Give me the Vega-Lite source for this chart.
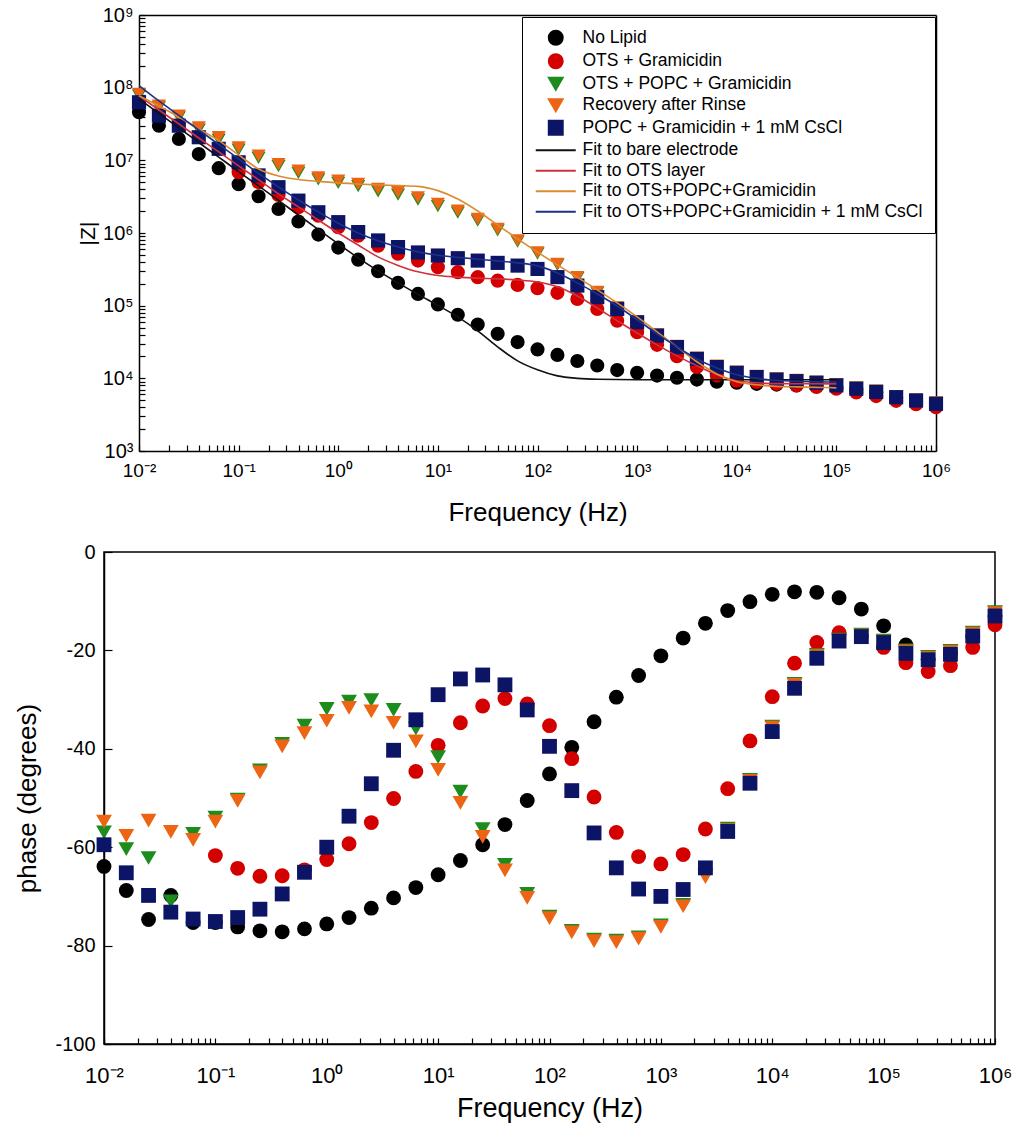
{
"$schema": "https://vega.github.io/schema/vega-lite/v6.json",
"background": "white",
"padding": {"left": 14, "top": 5, "right": 10, "bottom": 4},
"config": {
  "font": "Liberation Sans",
  "view": {"stroke": "black", "strokeWidth": 1.5},
  "axis": {"domainColor": "black", "domainWidth": 1.5, "tickColor": "black", "tickWidth": 1.2, "labelColor": "black", "titleColor": "black", "labelFont": "Liberation Sans", "titleFont": "Liberation Sans", "titleFontWeight": "normal", "grid": false, "labelFlush": false, "labelOverlap": false}
},
"datasets": {
"pts": [
{"s":"No Lipid","f":0.01,"z":4.6e7,"p":-63.9},
{"s":"No Lipid","f":0.01585,"z":3.0e7,"p":-68.8},
{"s":"No Lipid","f":0.02512,"z":1.97e7,"p":-74.7},
{"s":"No Lipid","f":0.03981,"z":1.22e7,"p":-69.8},
{"s":"No Lipid","f":0.0631,"z":7.8e6,"p":-75.3},
{"s":"No Lipid","f":0.1,"z":4.7e6,"p":-75.3},
{"s":"No Lipid","f":0.1585,"z":3.2e6,"p":-76.2},
{"s":"No Lipid","f":0.2512,"z":2.14e6,"p":-77.0},
{"s":"No Lipid","f":0.3981,"z":1.44e6,"p":-77.2},
{"s":"No Lipid","f":0.631,"z":9.5e5,"p":-76.6},
{"s":"No Lipid","f":1,"z":6.3e5,"p":-75.6},
{"s":"No Lipid","f":1.585,"z":4.3e5,"p":-74.3},
{"s":"No Lipid","f":2.512,"z":2.98e5,"p":-72.4},
{"s":"No Lipid","f":3.981,"z":2.06e5,"p":-70.3},
{"s":"No Lipid","f":6.31,"z":1.45e5,"p":-68.2},
{"s":"No Lipid","f":10,"z":1.04e5,"p":-65.6},
{"s":"No Lipid","f":15.85,"z":7.5e4,"p":-62.7},
{"s":"No Lipid","f":25.12,"z":5.5e4,"p":-59.5},
{"s":"No Lipid","f":39.81,"z":4.1e4,"p":-55.4},
{"s":"No Lipid","f":63.1,"z":3.15e4,"p":-50.5},
{"s":"No Lipid","f":100,"z":2.5e4,"p":-45.1},
{"s":"No Lipid","f":158.5,"z":2.1e4,"p":-39.7},
{"s":"No Lipid","f":251.2,"z":1.73e4,"p":-34.5},
{"s":"No Lipid","f":398.1,"z":1.5e4,"p":-29.5},
{"s":"No Lipid","f":631,"z":1.3e4,"p":-25.1},
{"s":"No Lipid","f":1000,"z":1.19e4,"p":-21.1},
{"s":"No Lipid","f":1585,"z":1.09e4,"p":-17.5},
{"s":"No Lipid","f":2512,"z":1.02e4,"p":-14.5},
{"s":"No Lipid","f":3981,"z":9.6e3,"p":-11.9},
{"s":"No Lipid","f":6310,"z":9.0e3,"p":-10.1},
{"s":"No Lipid","f":10000,"z":8.7e3,"p":-8.6},
{"s":"No Lipid","f":15850,"z":8.4e3,"p":-8.1},
{"s":"No Lipid","f":25120,"z":8.2e3,"p":-8.2},
{"s":"No Lipid","f":39810,"z":8.0e3,"p":-9.3},
{"s":"No Lipid","f":63100,"z":7.8e3,"p":-11.6},
{"s":"No Lipid","f":100000,"z":7.6e3,"p":-15.0},
{"s":"No Lipid","f":158500,"z":7.0e3,"p":-18.9},
{"s":"No Lipid","f":251200,"z":6.4e3,"p":-21.8},
{"s":"No Lipid","f":398100,"z":5.4e3,"p":-20.6},
{"s":"No Lipid","f":631000,"z":4.8e3,"p":-17.2},
{"s":"No Lipid","f":1000000,"z":4.3e3,"p":-13.0},
{"s":"OTS + Gramicidin","f":0.1,"z":6.86e6,"p":-61.7},
{"s":"OTS + Gramicidin","f":0.1585,"z":5.0e6,"p":-64.3},
{"s":"OTS + Gramicidin","f":0.2512,"z":3.34e6,"p":-65.9},
{"s":"OTS + Gramicidin","f":0.3981,"z":2.26e6,"p":-65.8},
{"s":"OTS + Gramicidin","f":0.631,"z":1.73e6,"p":-64.6},
{"s":"OTS + Gramicidin","f":1,"z":1.2e6,"p":-62.5},
{"s":"OTS + Gramicidin","f":1.585,"z":9.2e5,"p":-59.3},
{"s":"OTS + Gramicidin","f":2.512,"z":6.7e5,"p":-55.0},
{"s":"OTS + Gramicidin","f":3.981,"z":5.2e5,"p":-50.1},
{"s":"OTS + Gramicidin","f":6.31,"z":4.17e5,"p":-44.6},
{"s":"OTS + Gramicidin","f":10,"z":3.39e5,"p":-39.3},
{"s":"OTS + Gramicidin","f":15.85,"z":2.89e5,"p":-34.7},
{"s":"OTS + Gramicidin","f":25.12,"z":2.47e5,"p":-31.3},
{"s":"OTS + Gramicidin","f":39.81,"z":2.21e5,"p":-29.8},
{"s":"OTS + Gramicidin","f":63.1,"z":1.93e5,"p":-30.9},
{"s":"OTS + Gramicidin","f":100,"z":1.74e5,"p":-35.3},
{"s":"OTS + Gramicidin","f":158.5,"z":1.5e5,"p":-42.0},
{"s":"OTS + Gramicidin","f":251.2,"z":1.24e5,"p":-49.8},
{"s":"OTS + Gramicidin","f":398.1,"z":9.0e4,"p":-57.0},
{"s":"OTS + Gramicidin","f":631,"z":6.2e4,"p":-61.9},
{"s":"OTS + Gramicidin","f":1000,"z":4.3e4,"p":-63.4},
{"s":"OTS + Gramicidin","f":1585,"z":2.89e4,"p":-61.5},
{"s":"OTS + Gramicidin","f":2512,"z":2.02e4,"p":-56.3},
{"s":"OTS + Gramicidin","f":3981,"z":1.43e4,"p":-48.1},
{"s":"OTS + Gramicidin","f":6310,"z":1.09e4,"p":-38.4},
{"s":"OTS + Gramicidin","f":10000,"z":9.3e3,"p":-29.4},
{"s":"OTS + Gramicidin","f":15850,"z":8.9e3,"p":-22.6},
{"s":"OTS + Gramicidin","f":25120,"z":8.4e3,"p":-18.4},
{"s":"OTS + Gramicidin","f":39810,"z":8.0e3,"p":-16.4},
{"s":"OTS + Gramicidin","f":63100,"z":7.6e3,"p":-17.1},
{"s":"OTS + Gramicidin","f":100000,"z":7.2e3,"p":-19.4},
{"s":"OTS + Gramicidin","f":158500,"z":6.4e3,"p":-22.5},
{"s":"OTS + Gramicidin","f":251200,"z":5.7e3,"p":-24.3},
{"s":"OTS + Gramicidin","f":398100,"z":4.9e3,"p":-23.1},
{"s":"OTS + Gramicidin","f":631000,"z":4.4e3,"p":-19.4},
{"s":"OTS + Gramicidin","f":1000000,"z":4.0e3,"p":-14.8},
{"s":"OTS + POPC + Gramicidin","f":0.01,"z":7.8e7,"p":-57.0},
{"s":"OTS + POPC + Gramicidin","f":0.01585,"z":5.4e7,"p":-60.4},
{"s":"OTS + POPC + Gramicidin","f":0.02512,"z":3.9e7,"p":-62.2},
{"s":"OTS + POPC + Gramicidin","f":0.03981,"z":2.65e7,"p":-71.0},
{"s":"OTS + POPC + Gramicidin","f":0.0631,"z":1.93e7,"p":-57.3},
{"s":"OTS + POPC + Gramicidin","f":0.1,"z":1.4e7,"p":-54.0},
{"s":"OTS + POPC + Gramicidin","f":0.1585,"z":1.08e7,"p":-50.3},
{"s":"OTS + POPC + Gramicidin","f":0.2512,"z":8.3e6,"p":-44.4},
{"s":"OTS + POPC + Gramicidin","f":0.3981,"z":6.7e6,"p":-39.0},
{"s":"OTS + POPC + Gramicidin","f":0.631,"z":5.45e6,"p":-35.3},
{"s":"OTS + POPC + Gramicidin","f":1,"z":4.9e6,"p":-31.9},
{"s":"OTS + POPC + Gramicidin","f":1.585,"z":4.4e6,"p":-30.4},
{"s":"OTS + POPC + Gramicidin","f":2.512,"z":3.75e6,"p":-30.1},
{"s":"OTS + POPC + Gramicidin","f":3.981,"z":3.38e6,"p":-32.1},
{"s":"OTS + POPC + Gramicidin","f":6.31,"z":2.88e6,"p":-35.9},
{"s":"OTS + POPC + Gramicidin","f":10,"z":2.35e6,"p":-41.7},
{"s":"OTS + POPC + Gramicidin","f":15.85,"z":1.9e6,"p":-48.7},
{"s":"OTS + POPC + Gramicidin","f":25.12,"z":1.48e6,"p":-56.3},
{"s":"OTS + POPC + Gramicidin","f":39.81,"z":1.09e6,"p":-63.6},
{"s":"OTS + POPC + Gramicidin","f":63.1,"z":7.6e5,"p":-69.5},
{"s":"OTS + POPC + Gramicidin","f":100,"z":5.2e5,"p":-74.1},
{"s":"OTS + POPC + Gramicidin","f":158.5,"z":3.65e5,"p":-77.0},
{"s":"OTS + POPC + Gramicidin","f":251.2,"z":2.4e5,"p":-78.8},
{"s":"OTS + POPC + Gramicidin","f":398.1,"z":1.5e5,"p":-79.0},
{"s":"OTS + POPC + Gramicidin","f":631,"z":9.3e4,"p":-78.3},
{"s":"OTS + POPC + Gramicidin","f":1000,"z":6.0e4,"p":-75.9},
{"s":"OTS + POPC + Gramicidin","f":1585,"z":3.95e4,"p":-71.7},
{"s":"OTS + POPC + Gramicidin","f":2512,"z":2.75e4,"p":-65.6},
{"s":"OTS + POPC + Gramicidin","f":3981,"z":1.9e4,"p":-56.2},
{"s":"OTS + POPC + Gramicidin","f":6310,"z":1.47e4,"p":-46.3},
{"s":"OTS + POPC + Gramicidin","f":10000,"z":1.22e4,"p":-35.5},
{"s":"OTS + POPC + Gramicidin","f":15850,"z":1.06e4,"p":-26.8},
{"s":"OTS + POPC + Gramicidin","f":25120,"z":9.8e3,"p":-20.9},
{"s":"OTS + POPC + Gramicidin","f":39810,"z":9.3e3,"p":-17.8},
{"s":"OTS + POPC + Gramicidin","f":63100,"z":8.8e3,"p":-16.8},
{"s":"OTS + POPC + Gramicidin","f":100000,"z":8.2e3,"p":-18.0},
{"s":"OTS + POPC + Gramicidin","f":158500,"z":7.4e3,"p":-20.0},
{"s":"OTS + POPC + Gramicidin","f":251200,"z":6.7e3,"p":-21.3},
{"s":"OTS + POPC + Gramicidin","f":398100,"z":5.65e3,"p":-20.1},
{"s":"OTS + POPC + Gramicidin","f":631000,"z":5.1e3,"p":-16.4},
{"s":"OTS + POPC + Gramicidin","f":1000000,"z":4.6e3,"p":-12.2},
{"s":"Recovery after Rinse","f":0.01,"z":8.2e7,"p":-54.8},
{"s":"Recovery after Rinse","f":0.01585,"z":5.65e7,"p":-57.7},
{"s":"Recovery after Rinse","f":0.02512,"z":4.12e7,"p":-54.6},
{"s":"Recovery after Rinse","f":0.03981,"z":2.85e7,"p":-56.9},
{"s":"Recovery after Rinse","f":0.0631,"z":2.08e7,"p":-58.5},
{"s":"Recovery after Rinse","f":0.1,"z":1.51e7,"p":-54.8},
{"s":"Recovery after Rinse","f":0.1585,"z":1.16e7,"p":-50.6},
{"s":"Recovery after Rinse","f":0.2512,"z":8.9e6,"p":-44.8},
{"s":"Recovery after Rinse","f":0.3981,"z":7.2e6,"p":-39.5},
{"s":"Recovery after Rinse","f":0.631,"z":5.85e6,"p":-36.8},
{"s":"Recovery after Rinse","f":1,"z":5.26e6,"p":-34.3},
{"s":"Recovery after Rinse","f":1.585,"z":4.73e6,"p":-31.7},
{"s":"Recovery after Rinse","f":2.512,"z":4.04e6,"p":-32.4},
{"s":"Recovery after Rinse","f":3.981,"z":3.64e6,"p":-34.7},
{"s":"Recovery after Rinse","f":6.31,"z":3.1e6,"p":-38.5},
{"s":"Recovery after Rinse","f":10,"z":2.51e6,"p":-44.3},
{"s":"Recovery after Rinse","f":15.85,"z":2.03e6,"p":-51.0},
{"s":"Recovery after Rinse","f":25.12,"z":1.56e6,"p":-57.9},
{"s":"Recovery after Rinse","f":39.81,"z":1.14e6,"p":-64.7},
{"s":"Recovery after Rinse","f":63.1,"z":7.9e5,"p":-70.3},
{"s":"Recovery after Rinse","f":100,"z":5.4e5,"p":-74.4},
{"s":"Recovery after Rinse","f":158.5,"z":3.76e5,"p":-77.3},
{"s":"Recovery after Rinse","f":251.2,"z":2.47e5,"p":-79.1},
{"s":"Recovery after Rinse","f":398.1,"z":1.55e5,"p":-79.3},
{"s":"Recovery after Rinse","f":631,"z":9.5e4,"p":-78.6},
{"s":"Recovery after Rinse","f":1000,"z":6.1e4,"p":-76.2},
{"s":"Recovery after Rinse","f":1585,"z":4.0e4,"p":-72.0},
{"s":"Recovery after Rinse","f":2512,"z":2.8e4,"p":-66.1},
{"s":"Recovery after Rinse","f":3981,"z":1.92e4,"p":-56.5},
{"s":"Recovery after Rinse","f":6310,"z":1.49e4,"p":-46.5},
{"s":"Recovery after Rinse","f":10000,"z":1.24e4,"p":-35.7},
{"s":"Recovery after Rinse","f":15850,"z":1.08e4,"p":-27.0},
{"s":"Recovery after Rinse","f":25120,"z":1.0e4,"p":-21.1},
{"s":"Recovery after Rinse","f":39810,"z":9.5e3,"p":-18.0},
{"s":"Recovery after Rinse","f":63100,"z":9.0e3,"p":-17.0},
{"s":"Recovery after Rinse","f":100000,"z":8.3e3,"p":-18.2},
{"s":"Recovery after Rinse","f":158500,"z":7.5e3,"p":-20.2},
{"s":"Recovery after Rinse","f":251200,"z":6.75e3,"p":-21.5},
{"s":"Recovery after Rinse","f":398100,"z":5.7e3,"p":-20.3},
{"s":"Recovery after Rinse","f":631000,"z":5.15e3,"p":-16.6},
{"s":"Recovery after Rinse","f":1000000,"z":4.65e3,"p":-12.4},
{"s":"POPC + Gramicidin + 1 mM CsCl","f":0.01,"z":6.3e7,"p":-59.5},
{"s":"POPC + Gramicidin + 1 mM CsCl","f":0.01585,"z":4.12e7,"p":-65.2},
{"s":"POPC + Gramicidin + 1 mM CsCl","f":0.02512,"z":3.0e7,"p":-69.8},
{"s":"POPC + Gramicidin + 1 mM CsCl","f":0.03981,"z":2.08e7,"p":-73.2},
{"s":"POPC + Gramicidin + 1 mM CsCl","f":0.0631,"z":1.44e7,"p":-74.6},
{"s":"POPC + Gramicidin + 1 mM CsCl","f":0.1,"z":9.4e6,"p":-75.1},
{"s":"POPC + Gramicidin + 1 mM CsCl","f":0.1585,"z":6.2e6,"p":-74.3},
{"s":"POPC + Gramicidin + 1 mM CsCl","f":0.2512,"z":4.27e6,"p":-72.6},
{"s":"POPC + Gramicidin + 1 mM CsCl","f":0.3981,"z":2.79e6,"p":-69.5},
{"s":"POPC + Gramicidin + 1 mM CsCl","f":0.631,"z":1.93e6,"p":-65.1},
{"s":"POPC + Gramicidin + 1 mM CsCl","f":1,"z":1.41e6,"p":-60.0},
{"s":"POPC + Gramicidin + 1 mM CsCl","f":1.585,"z":1.03e6,"p":-53.7},
{"s":"POPC + Gramicidin + 1 mM CsCl","f":2.512,"z":7.9e5,"p":-47.1},
{"s":"POPC + Gramicidin + 1 mM CsCl","f":3.981,"z":6.4e5,"p":-40.3},
{"s":"POPC + Gramicidin + 1 mM CsCl","f":6.31,"z":5.4e5,"p":-34.1},
{"s":"POPC + Gramicidin + 1 mM CsCl","f":10,"z":4.9e5,"p":-29.0},
{"s":"POPC + Gramicidin + 1 mM CsCl","f":15.85,"z":4.5e5,"p":-25.8},
{"s":"POPC + Gramicidin + 1 mM CsCl","f":25.12,"z":4.17e5,"p":-25.0},
{"s":"POPC + Gramicidin + 1 mM CsCl","f":39.81,"z":3.88e5,"p":-27.0},
{"s":"POPC + Gramicidin + 1 mM CsCl","f":63.1,"z":3.56e5,"p":-32.1},
{"s":"POPC + Gramicidin + 1 mM CsCl","f":100,"z":3.2e5,"p":-39.5},
{"s":"POPC + Gramicidin + 1 mM CsCl","f":158.5,"z":2.47e5,"p":-48.5},
{"s":"POPC + Gramicidin + 1 mM CsCl","f":251.2,"z":1.89e5,"p":-57.1},
{"s":"POPC + Gramicidin + 1 mM CsCl","f":398.1,"z":1.31e5,"p":-64.2},
{"s":"POPC + Gramicidin + 1 mM CsCl","f":631,"z":9.0e4,"p":-68.5},
{"s":"POPC + Gramicidin + 1 mM CsCl","f":1000,"z":5.9e4,"p":-70.0},
{"s":"POPC + Gramicidin + 1 mM CsCl","f":1585,"z":3.88e4,"p":-68.6},
{"s":"POPC + Gramicidin + 1 mM CsCl","f":2512,"z":2.69e4,"p":-64.2},
{"s":"POPC + Gramicidin + 1 mM CsCl","f":3981,"z":1.85e4,"p":-56.8},
{"s":"POPC + Gramicidin + 1 mM CsCl","f":6310,"z":1.43e4,"p":-47.0},
{"s":"POPC + Gramicidin + 1 mM CsCl","f":10000,"z":1.19e4,"p":-36.5},
{"s":"POPC + Gramicidin + 1 mM CsCl","f":15850,"z":1.04e4,"p":-27.7},
{"s":"POPC + Gramicidin + 1 mM CsCl","f":25120,"z":9.6e3,"p":-21.6},
{"s":"POPC + Gramicidin + 1 mM CsCl","f":39810,"z":9.15e3,"p":-18.1},
{"s":"POPC + Gramicidin + 1 mM CsCl","f":63100,"z":8.7e3,"p":-17.2},
{"s":"POPC + Gramicidin + 1 mM CsCl","f":100000,"z":8.0e3,"p":-18.4},
{"s":"POPC + Gramicidin + 1 mM CsCl","f":158500,"z":7.2e3,"p":-20.6},
{"s":"POPC + Gramicidin + 1 mM CsCl","f":251200,"z":6.5e3,"p":-21.9},
{"s":"POPC + Gramicidin + 1 mM CsCl","f":398100,"z":5.5e3,"p":-20.8},
{"s":"POPC + Gramicidin + 1 mM CsCl","f":631000,"z":4.95e3,"p":-17.1},
{"s":"POPC + Gramicidin + 1 mM CsCl","f":1000000,"z":4.46e3,"p":-13.0}
],
"fits": [
{"s":"Fit to bare electrode","f":0.01,"z":7.0e7},
{"s":"Fit to bare electrode","f":0.01585,"z":4.42e7},
{"s":"Fit to bare electrode","f":0.02512,"z":2.79e7},
{"s":"Fit to bare electrode","f":0.03981,"z":1.76e7},
{"s":"Fit to bare electrode","f":0.0631,"z":1.11e7},
{"s":"Fit to bare electrode","f":0.1,"z":7.0e6},
{"s":"Fit to bare electrode","f":0.1585,"z":4.44e6},
{"s":"Fit to bare electrode","f":0.2512,"z":2.81e6},
{"s":"Fit to bare electrode","f":0.3981,"z":1.77e6},
{"s":"Fit to bare electrode","f":0.631,"z":1.12e6},
{"s":"Fit to bare electrode","f":1,"z":7.1e5},
{"s":"Fit to bare electrode","f":1.585,"z":4.55e5},
{"s":"Fit to bare electrode","f":2.512,"z":3.01e5},
{"s":"Fit to bare electrode","f":3.981,"z":2.06e5},
{"s":"Fit to bare electrode","f":6.31,"z":1.43e5},
{"s":"Fit to bare electrode","f":10,"z":1.01e5},
{"s":"Fit to bare electrode","f":15.85,"z":7.0e4},
{"s":"Fit to bare electrode","f":25.12,"z":4.5e4},
{"s":"Fit to bare electrode","f":39.81,"z":2.71e4},
{"s":"Fit to bare electrode","f":63.1,"z":1.74e4},
{"s":"Fit to bare electrode","f":100,"z":1.31e4},
{"s":"Fit to bare electrode","f":158.5,"z":1.08e4},
{"s":"Fit to bare electrode","f":251.2,"z":1.0e4},
{"s":"Fit to bare electrode","f":398.1,"z":9.7e3},
{"s":"Fit to bare electrode","f":1000,"z":9.56e3},
{"s":"Fit to bare electrode","f":10000,"z":9.55e3},
{"s":"Fit to bare electrode","f":100000,"z":9.55e3},
{"s":"Fit to OTS layer","f":0.01,"z":7.7e7},
{"s":"Fit to OTS layer","f":0.01585,"z":4.93e7},
{"s":"Fit to OTS layer","f":0.02512,"z":3.17e7},
{"s":"Fit to OTS layer","f":0.03981,"z":2.03e7},
{"s":"Fit to OTS layer","f":0.0631,"z":1.31e7},
{"s":"Fit to OTS layer","f":0.1,"z":8.4e6},
{"s":"Fit to OTS layer","f":0.1585,"z":5.4e6},
{"s":"Fit to OTS layer","f":0.2512,"z":3.45e6},
{"s":"Fit to OTS layer","f":0.3981,"z":2.29e6},
{"s":"Fit to OTS layer","f":0.631,"z":1.51e6},
{"s":"Fit to OTS layer","f":1,"z":1.0e6},
{"s":"Fit to OTS layer","f":1.585,"z":6.85e5},
{"s":"Fit to OTS layer","f":2.512,"z":4.69e5},
{"s":"Fit to OTS layer","f":3.981,"z":3.58e5},
{"s":"Fit to OTS layer","f":6.31,"z":2.92e5},
{"s":"Fit to OTS layer","f":10,"z":2.6e5},
{"s":"Fit to OTS layer","f":15.85,"z":2.47e5},
{"s":"Fit to OTS layer","f":25.12,"z":2.39e5},
{"s":"Fit to OTS layer","f":39.81,"z":2.34e5},
{"s":"Fit to OTS layer","f":63.1,"z":2.26e5},
{"s":"Fit to OTS layer","f":100,"z":2.12e5},
{"s":"Fit to OTS layer","f":158.5,"z":1.82e5},
{"s":"Fit to OTS layer","f":251.2,"z":1.36e5},
{"s":"Fit to OTS layer","f":398.1,"z":9.3e4},
{"s":"Fit to OTS layer","f":631,"z":6.2e4},
{"s":"Fit to OTS layer","f":1000,"z":4.2e4},
{"s":"Fit to OTS layer","f":1585,"z":2.89e4},
{"s":"Fit to OTS layer","f":2512,"z":2.04e4},
{"s":"Fit to OTS layer","f":3981,"z":1.49e4},
{"s":"Fit to OTS layer","f":6310,"z":1.12e4},
{"s":"Fit to OTS layer","f":10000,"z":9.25e3},
{"s":"Fit to OTS layer","f":15850,"z":8.7e3},
{"s":"Fit to OTS layer","f":25120,"z":8.45e3},
{"s":"Fit to OTS layer","f":100000,"z":8.4e3},
{"s":"Fit to OTS+POPC+Gramicidin","f":0.01,"z":7.76e7},
{"s":"Fit to OTS+POPC+Gramicidin","f":0.01585,"z":5.6e7},
{"s":"Fit to OTS+POPC+Gramicidin","f":0.02512,"z":3.95e7},
{"s":"Fit to OTS+POPC+Gramicidin","f":0.03981,"z":2.7e7},
{"s":"Fit to OTS+POPC+Gramicidin","f":0.0631,"z":1.87e7},
{"s":"Fit to OTS+POPC+Gramicidin","f":0.1,"z":1.19e7},
{"s":"Fit to OTS+POPC+Gramicidin","f":0.1585,"z":7.6e6},
{"s":"Fit to OTS+POPC+Gramicidin","f":0.2512,"z":6.1e6},
{"s":"Fit to OTS+POPC+Gramicidin","f":0.3981,"z":5.46e6},
{"s":"Fit to OTS+POPC+Gramicidin","f":0.631,"z":5.13e6},
{"s":"Fit to OTS+POPC+Gramicidin","f":1,"z":4.89e6},
{"s":"Fit to OTS+POPC+Gramicidin","f":1.585,"z":4.73e6},
{"s":"Fit to OTS+POPC+Gramicidin","f":2.512,"z":4.59e6},
{"s":"Fit to OTS+POPC+Gramicidin","f":3.981,"z":4.49e6},
{"s":"Fit to OTS+POPC+Gramicidin","f":6.31,"z":4.38e6},
{"s":"Fit to OTS+POPC+Gramicidin","f":10,"z":3.83e6},
{"s":"Fit to OTS+POPC+Gramicidin","f":15.85,"z":2.94e6},
{"s":"Fit to OTS+POPC+Gramicidin","f":25.12,"z":2.01e6},
{"s":"Fit to OTS+POPC+Gramicidin","f":39.81,"z":1.29e6},
{"s":"Fit to OTS+POPC+Gramicidin","f":63.1,"z":8.3e5},
{"s":"Fit to OTS+POPC+Gramicidin","f":100,"z":5.45e5},
{"s":"Fit to OTS+POPC+Gramicidin","f":158.5,"z":3.64e5},
{"s":"Fit to OTS+POPC+Gramicidin","f":251.2,"z":2.45e5},
{"s":"Fit to OTS+POPC+Gramicidin","f":398.1,"z":1.65e5},
{"s":"Fit to OTS+POPC+Gramicidin","f":631,"z":1.09e5},
{"s":"Fit to OTS+POPC+Gramicidin","f":1000,"z":7.0e4},
{"s":"Fit to OTS+POPC+Gramicidin","f":1585,"z":4.37e4},
{"s":"Fit to OTS+POPC+Gramicidin","f":2512,"z":2.71e4},
{"s":"Fit to OTS+POPC+Gramicidin","f":3981,"z":1.69e4},
{"s":"Fit to OTS+POPC+Gramicidin","f":6310,"z":1.15e4},
{"s":"Fit to OTS+POPC+Gramicidin","f":10000,"z":8.95e3},
{"s":"Fit to OTS+POPC+Gramicidin","f":15850,"z":8.15e3},
{"s":"Fit to OTS+POPC+Gramicidin","f":25120,"z":7.76e3},
{"s":"Fit to OTS+POPC+Gramicidin","f":39810,"z":7.64e3},
{"s":"Fit to OTS+POPC+Gramicidin","f":63100,"z":7.52e3},
{"s":"Fit to OTS+POPC+Gramicidin","f":100000,"z":7.4e3},
{"s":"Fit to OTS+POPC+Gramicidin + 1 mM CsCl","f":0.01,"z":1.07e8},
{"s":"Fit to OTS+POPC+Gramicidin + 1 mM CsCl","f":0.01585,"z":6.56e7},
{"s":"Fit to OTS+POPC+Gramicidin + 1 mM CsCl","f":0.02512,"z":4.15e7},
{"s":"Fit to OTS+POPC+Gramicidin + 1 mM CsCl","f":0.03981,"z":2.62e7},
{"s":"Fit to OTS+POPC+Gramicidin + 1 mM CsCl","f":0.0631,"z":1.66e7},
{"s":"Fit to OTS+POPC+Gramicidin + 1 mM CsCl","f":0.1,"z":1.05e7},
{"s":"Fit to OTS+POPC+Gramicidin + 1 mM CsCl","f":0.1585,"z":6.6e6},
{"s":"Fit to OTS+POPC+Gramicidin + 1 mM CsCl","f":0.2512,"z":4.31e6},
{"s":"Fit to OTS+POPC+Gramicidin + 1 mM CsCl","f":0.3981,"z":2.85e6},
{"s":"Fit to OTS+POPC+Gramicidin + 1 mM CsCl","f":0.631,"z":1.95e6},
{"s":"Fit to OTS+POPC+Gramicidin + 1 mM CsCl","f":1,"z":1.36e6},
{"s":"Fit to OTS+POPC+Gramicidin + 1 mM CsCl","f":1.585,"z":1.0e6},
{"s":"Fit to OTS+POPC+Gramicidin + 1 mM CsCl","f":2.512,"z":7.8e5},
{"s":"Fit to OTS+POPC+Gramicidin + 1 mM CsCl","f":3.981,"z":6.4e5},
{"s":"Fit to OTS+POPC+Gramicidin + 1 mM CsCl","f":6.31,"z":5.5e5},
{"s":"Fit to OTS+POPC+Gramicidin + 1 mM CsCl","f":10,"z":4.95e5},
{"s":"Fit to OTS+POPC+Gramicidin + 1 mM CsCl","f":15.85,"z":4.62e5},
{"s":"Fit to OTS+POPC+Gramicidin + 1 mM CsCl","f":25.12,"z":4.36e5},
{"s":"Fit to OTS+POPC+Gramicidin + 1 mM CsCl","f":39.81,"z":4.13e5},
{"s":"Fit to OTS+POPC+Gramicidin + 1 mM CsCl","f":63.1,"z":3.88e5},
{"s":"Fit to OTS+POPC+Gramicidin + 1 mM CsCl","f":100,"z":3.53e5},
{"s":"Fit to OTS+POPC+Gramicidin + 1 mM CsCl","f":158.5,"z":2.82e5},
{"s":"Fit to OTS+POPC+Gramicidin + 1 mM CsCl","f":251.2,"z":2.06e5},
{"s":"Fit to OTS+POPC+Gramicidin + 1 mM CsCl","f":398.1,"z":1.45e5},
{"s":"Fit to OTS+POPC+Gramicidin + 1 mM CsCl","f":631,"z":9.9e4},
{"s":"Fit to OTS+POPC+Gramicidin + 1 mM CsCl","f":1000,"z":6.4e4},
{"s":"Fit to OTS+POPC+Gramicidin + 1 mM CsCl","f":1585,"z":4.1e4},
{"s":"Fit to OTS+POPC+Gramicidin + 1 mM CsCl","f":2512,"z":2.71e4},
{"s":"Fit to OTS+POPC+Gramicidin + 1 mM CsCl","f":3981,"z":1.85e4},
{"s":"Fit to OTS+POPC+Gramicidin + 1 mM CsCl","f":6310,"z":1.39e4},
{"s":"Fit to OTS+POPC+Gramicidin + 1 mM CsCl","f":10000,"z":1.12e4},
{"s":"Fit to OTS+POPC+Gramicidin + 1 mM CsCl","f":15850,"z":1.0e4},
{"s":"Fit to OTS+POPC+Gramicidin + 1 mM CsCl","f":25120,"z":9.4e3},
{"s":"Fit to OTS+POPC+Gramicidin + 1 mM CsCl","f":39810,"z":9.1e3},
{"s":"Fit to OTS+POPC+Gramicidin + 1 mM CsCl","f":63100,"z":8.95e3},
{"s":"Fit to OTS+POPC+Gramicidin + 1 mM CsCl","f":100000,"z":8.87e3}
]
},
"spacing": 16,
"resolve": {"scale": {"color": "shared", "shape": "shared", "size": "shared"}},
"vconcat": [
{
  "width": 832, "height": 436,
  "view": {"stroke": null},
  "layer": [
    {
      "data": {"name": "pts"},
      "mark": {"type": "point", "filled": true, "opacity": 1},
      "encoding": {
        "x": {"field": "f", "type": "quantitative",
              "scale": {"type": "log", "domain": [0.01, 1000000], "nice": false, "rangeMin": 35},
              "axis": {"orient": "bottom", "tickCount": 100,
                       "labelExpr": "abs(log(datum.value)/LN10 - round(log(datum.value)/LN10)) < 0.001 ? '10' + ['⁻²','⁻¹','⁰','¹','²','³','⁴','⁵','⁶','⁷','⁸','⁹'][round(log(datum.value)/LN10)+2] : ''",
                       "tickSize": -6,
                       "labelPadding": 16, "labelFontSize": 19,
                       "title": "Frequency (Hz)", "titleFontSize": 26, "titlePadding": 19}},
        "y": {"field": "z", "type": "quantitative",
              "scale": {"type": "log", "domain": [1000, 1000000000], "nice": false},
              "axis": {"orient": "left", "offset": -35, "tickCount": 100,
                       "labelExpr": "abs(log(datum.value)/LN10 - round(log(datum.value)/LN10)) < 0.001 ? '10' + ['⁻²','⁻¹','⁰','¹','²','³','⁴','⁵','⁶','⁷','⁸','⁹'][round(log(datum.value)/LN10)+2] : ''",
                       "tickSize": -6,
                       "labelPadding": 12, "labelFontSize": 20,
                       "title": "|Z|", "titleFontSize": 21, "titlePadding": 4}},
        "color": {"field": "s", "type": "nominal",
                  "scale": {"domain": ["No Lipid", "OTS + Gramicidin", "OTS + POPC + Gramicidin", "Recovery after Rinse", "POPC + Gramicidin + 1 mM CsCl", "Fit to bare electrode", "Fit to OTS layer", "Fit to OTS+POPC+Gramicidin", "Fit to OTS+POPC+Gramicidin + 1 mM CsCl"],
                            "range": ["#000000", "#d40000", "#1c8c1c", "#ec6414", "#0c1466", "#111111", "#d0303c", "#dc8a30", "#1f2f8a"]},
                  "legend": {"title": null, "orient": "none", "legendX": 418, "legendY": 2, "padding": 12,
                             "strokeColor": "black", "fillColor": "white",
                             "labelFontSize": 17.5, "labelFont": "Liberation Sans", "labelColor": "black", "labelLimit": 500,
                             "labelOffset": 18, "symbolOffset": 13, "symbolSize": 200, "rowPadding": 1.5, "symbolOpacity": 1, "symbolStrokeWidth": 1.8}},
        "shape": {"field": "s", "type": "nominal",
                  "scale": {"domain": ["No Lipid", "OTS + Gramicidin", "OTS + POPC + Gramicidin", "Recovery after Rinse", "POPC + Gramicidin + 1 mM CsCl", "Fit to bare electrode", "Fit to OTS layer", "Fit to OTS+POPC+Gramicidin", "Fit to OTS+POPC+Gramicidin + 1 mM CsCl"],
                            "range": ["circle", "circle", "triangle-down", "triangle-down", "square", "M-2.83,0H2.83", "M-2.83,0H2.83", "M-2.83,0H2.83", "M-2.83,0H2.83"]}},
        "size": {"field": "s", "type": "nominal",
                  "scale": {"domain": ["No Lipid", "OTS + Gramicidin", "OTS + POPC + Gramicidin", "Recovery after Rinse", "POPC + Gramicidin + 1 mM CsCl", "Fit to bare electrode", "Fit to OTS layer", "Fit to OTS+POPC+Gramicidin", "Fit to OTS+POPC+Gramicidin + 1 mM CsCl"],
                            "range": [200, 200, 240, 240, 180, 200, 200, 200, 200]}}
      }
    },
    {
      "data": {"name": "fits"},
      "mark": {"type": "line", "strokeWidth": 1.6, "interpolate": "monotone"},
      "encoding": {
        "x": {"field": "f", "type": "quantitative", "axis": {"orient": "top", "labels": false, "ticks": false, "title": null, "domain": true}},
        "y": {"field": "z", "type": "quantitative", "axis": {"orient": "right", "labels": false, "ticks": false, "title": null, "domain": true}},
        "color": {"field": "s", "type": "nominal"}
      }
    }
  ],
  "resolve": {"axis": {"x": "independent", "y": "independent"}}
},
{
  "width": 891, "height": 492,
  "data": {"name": "pts"},
  "mark": {"type": "point", "filled": true, "opacity": 1},
  "encoding": {
    "x": {"field": "f", "type": "quantitative",
          "scale": {"type": "log", "domain": [0.01, 1000000], "nice": false},
          "axis": {"tickCount": 100,
                   "labelExpr": "abs(log(datum.value)/LN10 - round(log(datum.value)/LN10)) < 0.001 ? '10' + ['⁻²','⁻¹','⁰','¹','²','³','⁴','⁵','⁶','⁷','⁸','⁹'][round(log(datum.value)/LN10)+2] : ''",
                   "tickSize": -6,
                   "labelPadding": 27, "labelFontSize": 22,
                   "title": "Frequency (Hz)", "titleFontSize": 27, "titlePadding": 9}},
    "y": {"field": "p", "type": "quantitative",
          "scale": {"domain": [-100, 0], "nice": false},
          "axis": {"values": [-100, -80, -60, -40, -20, 0], "tickSize": -8, "labelPadding": 17, "labelFontSize": 20,
                   "labelExpr": "datum.value < 0 ? '-' + abs(datum.value) : '' + datum.value",
                   "title": "phase (degrees)", "titleFontSize": 26, "titlePadding": 14}},
    "color": {"field": "s", "type": "nominal"},
    "shape": {"field": "s", "type": "nominal"},
    "size": {"condition": {"test": "datum.s === 'OTS + POPC + Gramicidin' || datum.s === 'Recovery after Rinse'", "value": 250}, "value": 220}
  }
}
]
}
